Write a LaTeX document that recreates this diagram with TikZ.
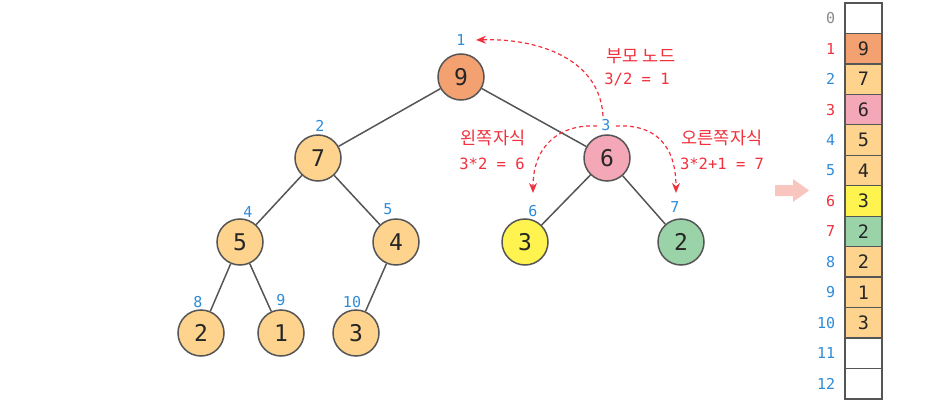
\documentclass[tikz,border=0pt]{standalone}
\usepackage{fontspec}
\setmainfont{DejaVu Sans Mono}
\newfontfamily\kr{Noto Sans CJK KR}
\usetikzlibrary{arrows.meta}
\definecolor{cRoot}{HTML}{F4A172}
\definecolor{cOr}{HTML}{FDD38E}
\definecolor{cPink}{HTML}{F4A7B7}
\definecolor{cYel}{HTML}{FFF44F}
\definecolor{cGrn}{HTML}{9BD3A9}
\definecolor{cBlue}{HTML}{2E8BD8}
\definecolor{cRed}{HTML}{F0303C}
\definecolor{cEdge}{HTML}{555555}
\definecolor{cGrayIdx}{HTML}{8A8A8A}
\definecolor{cBlock}{HTML}{F8C6BE}
\begin{document}
\begin{tikzpicture}[x=1pt,y=-1pt,
  hnode/.style={circle, draw=cEdge, line width=1.5pt, minimum size=46pt, inner sep=0pt, text=black!85, font=\fontsize{23}{23}\selectfont},
  idx/.style={text=cBlue, inner sep=0pt, font=\fontsize{15}{15}\selectfont},
  ridx/.style={idx, text=cRed},
  cell/.style={draw=cEdge, line width=1.3pt, minimum width=37pt, minimum height=30.46pt, inner sep=0pt, text=black!85, font=\fontsize{18.5}{18.5}\selectfont},
  edge/.style={draw=cEdge, line width=1.5pt},
  rtxt/.style={text=cRed, inner sep=0pt, font=\fontsize{15.5}{15.5}\selectfont},
  rkr/.style={text=cRed, inner sep=0pt, font=\kr\fontsize{17.5}{17.5}\selectfont},
  rarrow/.style={draw=cRed, line width=1.2pt, dashed, dash pattern=on 4pt off 3pt, -{Stealth[length=10pt,width=8pt]}},
  blockarrow/.style={fill=cBlock, draw=none}
]
\useasboundingbox (0,0) rectangle (940,420);
% tree nodes
\node[hnode, fill=cRoot] (n1) at (461,77) {9};
\node[hnode, fill=cOr] (n2) at (318,158) {7};
\node[hnode, fill=cPink] (n3) at (607,158) {6};
\node[hnode, fill=cOr] (n4) at (240,242) {5};
\node[hnode, fill=cOr] (n5) at (396,242) {4};
\node[hnode, fill=cYel] (n6) at (525,242) {3};
\node[hnode, fill=cGrn] (n7) at (681,242) {2};
\node[hnode, fill=cOr] (n8) at (201,333) {2};
\node[hnode, fill=cOr] (n9) at (281,333) {1};
\node[hnode, fill=cOr] (n10) at (356,333) {3};
% edges
\draw[edge] (n1) -- (n2);
\draw[edge] (n1) -- (n3);
\draw[edge] (n2) -- (n4);
\draw[edge] (n2) -- (n5);
\draw[edge] (n3) -- (n6);
\draw[edge] (n3) -- (n7);
\draw[edge] (n4) -- (n8);
\draw[edge] (n4) -- (n9);
\draw[edge] (n5) -- (n10);
% index labels
\node[idx] (i1) at (461,40) {1};
\node[idx] (i2) at (320,126) {2};
\node[idx] (i3) at (606,125) {3};
\node[idx] (i4) at (248,212) {4};
\node[idx] (i5) at (388,209) {5};
\node[idx] (i6) at (533,211) {6};
\node[idx] (i7) at (675,207) {7};
\node[idx] (i8) at (198,302) {8};
\node[idx] (i9) at (281,300) {9};
\node[idx] (i10) at (352,302) {10};
% red texts
\node[rkr] (tp1) at (641,56) {부모 노드};
\node[rtxt] (tp2) at (637,79) {3/2 = 1};
\node[rkr] (tl1) at (493,138) {왼쪽자식};
\node[rtxt] (tl2) at (492,164) {3*2 = 6};
\node[rkr] (tr1) at (722,138) {오른쪽자식};
\node[rtxt] (tr2) at (722,164) {3*2+1 = 7};
% dashed arrows
\coordinate (ps) at (603,116);
\coordinate (pe) at (476,40);
\coordinate (ls) at (597,126);
\coordinate (le) at (533,193);
\coordinate (rs) at (616,126);
\coordinate (re) at (676,193);
\draw[rarrow] (ps) .. controls (600,60) and (540,38) .. (pe);
\draw[rarrow] (ls) .. controls (560,124) and (533,145) .. (le);
\draw[rarrow] (rs) .. controls (655,124) and (676,145) .. (re);
% block arrow
\path[blockarrow] (775,185) -- (793,185) -- (793,179) -- (809,190.5) -- (793,202) -- (793,196) -- (775,196) -- cycle;
% array
\foreach \i/\v/\c in {0//white,1/9/cRoot,2/7/cOr,3/6/cPink,4/5/cOr,5/4/cOr,6/3/cYel,7/2/cGrn,8/2/cOr,9/1/cOr,10/3/cOr,11//white,12//white}{
  \node[cell, fill=\c] (c\i) at (863.5,{3+30.46*(\i+0.5)}) {\v};
}
\foreach \i in {2,4,5,8,9,10,11,12}{
  \node[idx, anchor=east] (a\i) at ([xshift=-9pt]c\i.west) {\i};
}
\foreach \i in {1,3,6,7}{
  \node[ridx, anchor=east] (b\i) at ([xshift=-9pt]c\i.west) {\i};
}
\node[idx, text=cGrayIdx, anchor=east] (a0) at ([xshift=-9pt]c0.west) {0};
\end{tikzpicture}
\end{document}
